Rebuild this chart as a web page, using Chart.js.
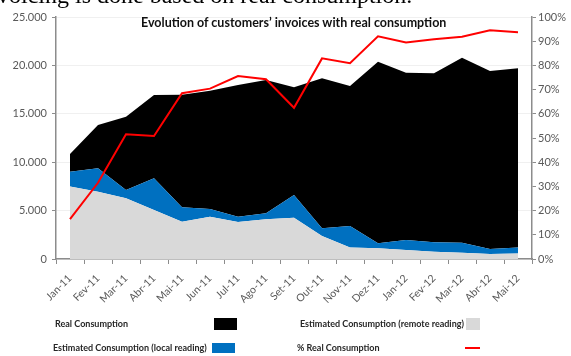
<!DOCTYPE html>
<html>
<head>
<meta charset="utf-8">
<script src="https://cdn.jsdelivr.net/npm/chart.js@4.4.1/dist/chart.umd.min.js"></script>
<style>
  html, body { margin: 0; padding: 0; background: #fff; }
  #wrap { position: relative; width: 571px; height: 356px; overflow: hidden; }
  #chart { position: absolute; left: 0; top: 0; }
  .hdr { position: absolute; left: -3px; top: -17px; font-family: "Liberation Serif", serif; font-size: 24px; line-height: 24px; white-space: nowrap; color: #000; }
  .ttl { position: absolute; top: 15px; left: 141px; font: bold 12.5px Lato, sans-serif; color: #111; white-space: nowrap; }
  .lg { position: absolute; font: bold 9px Lato, sans-serif; line-height: 12px; color: #262626; white-space: nowrap; }
  .sw { position: absolute; }
</style>
</head>
<body>
<div id="wrap">
  <canvas id="chart" width="571" height="356"></canvas>
  <div class="hdr">voicing is done based on real consumption.</div>
  <div class="ttl">Evolution of customers’ invoices with real consumption</div>
  <div id="legend"></div>
</div>
<script>
// Datos
const meses = ["Jan-11", "Fev-11", "Mar-11", "Abr-11", "Mai-11", "Jun-11", "Jul-11", "Ago-11", "Set-11",
  "Out-11", "Nov-11", "Dez-11", "Jan-12", "Fev-12", "Mar-12", "Abr-12", "Mai-12"];
const estimadoRemoto = [7500, 6950, 6270, 5060, 3860, 4370, 3820, 4100, 4250, 2380, 1200, 1100, 930, 760, 650, 520, 580];
const estimadoLocal = [1520, 2420, 860, 3270, 1480, 800, 550, 620, 2360, 790, 2210, 520, 1030, 960, 1040, 510, 620];
const consumoReal = [1830, 4470, 7570, 8610, 11630, 12220, 13600, 13770, 11130, 15490, 14460, 18760, 17290, 17460, 19110, 18390, 18500];
const pctReal = [16.5, 31.5, 51.5, 50.8, 68.5, 70.4, 75.6, 74.3, 62.5, 82.9, 80.9, 92.0, 89.5, 90.8, 91.8, 94.5, 93.7];
const ticksIzq = [0, 5000, 10000, 15000, 20000, 25000];
const ticksDer = [0, 10, 20, 30, 40, 50, 60, 70, 80, 90, 100];

const nombres = {
  real: "Real Consumption",
  remoto: "Estimated Consumption (remote reading)",
  local: "Estimated Consumption (local reading)",
  pct: "% Real Consumption",
};
const colores = { real: "#000000", remoto: "#d9d9d9", local: "#0070c0", pct: "#ff0000" };

const tickFont = { family: "Lato", size: 11 };
const gris = "#595959";
const eje = "#8c8c8c";

const area = (label, data, color, fill) => ({
  label, data, fill,
  backgroundColor: color,
  borderWidth: 0,
  pointRadius: 0,
  tension: 0,
  yAxisID: "y",
  order: 1,
});

new Chart(document.getElementById("chart"), {
  type: "line",
  data: {
    labels: meses,
    datasets: [
      area(nombres.remoto, estimadoRemoto, colores.remoto, "origin"),
      area(nombres.local, estimadoLocal, colores.local, "-1"),
      area(nombres.real, consumoReal, colores.real, "-1"),
      {
        label: nombres.pct,
        data: pctReal,
        borderColor: colores.pct,
        borderWidth: 2,
        pointRadius: 0,
        tension: 0,
        fill: false,
        yAxisID: "y1",
        order: 0,
      },
    ],
  },
  options: {
    responsive: false,
    animation: false,
    layout: { padding: { top: 17, left: 0, right: 0, bottom: 0 } },
    plugins: { legend: { display: false }, tooltip: { enabled: false } },
    scales: {
      x: {
        offset: true,
        afterFit: (s) => { s.height = 97; },
        border: { color: eje, width: 1.5 },
        grid: { offset: true, drawOnChartArea: false, drawTicks: true, tickLength: 5, tickColor: eje },
        ticks: { color: gris, font: { family: "Lato", size: 10.5 }, minRotation: 45, maxRotation: 45, autoSkip: false, padding: 8 },
      },
      y: {
        stacked: true,
        min: 0,
        max: 25000,
        afterFit: (s) => { s.width = 56; },
        afterBuildTicks: (s) => { s.ticks = ticksIzq.map((v) => ({ value: v })); },
        border: { color: eje, width: 1.5 },
        grid: { color: "#f0f0f0", tickColor: eje, tickLength: 4 },
        ticks: {
          color: gris, font: tickFont, padding: 5,
          callback: (v) => v.toLocaleString("de-DE"),
        },
      },
      y1: {
        position: "right",
        min: 0,
        max: 100,
        afterFit: (s) => { s.width = 39; },
        afterBuildTicks: (s) => { s.ticks = ticksDer.map((v) => ({ value: v })); },
        border: { color: eje, width: 1.5 },
        grid: { drawOnChartArea: false, tickColor: eje, tickLength: 4 },
        ticks: { color: gris, font: tickFont, padding: 2, callback: (v) => v + "%" },
      },
    },
  },
});

// Leyenda manual (texto primero, luego muestra)
const leyenda = [
  { key: "real", x: 55, y: 318, sx: 214, sy: 318, sw: 23, sh: 12 },
  { key: "remoto", x: 300, y: 318, sx: 466, sy: 318, sw: 14, sh: 12 },
  { key: "local", x: 53, y: 342, sx: 212, sy: 343, sw: 23, sh: 10 },
  { key: "pct", x: 297, y: 342, sx: 465, sy: 347, sw: 15, sh: 2 },
];
const cont = document.getElementById("legend");
leyenda.forEach((it) => {
  const t = document.createElement("div");
  t.className = "lg";
  t.style.left = it.x + "px";
  t.style.top = it.y + "px";
  t.textContent = nombres[it.key];
  cont.appendChild(t);
  const s = document.createElement("div");
  s.className = "sw";
  s.style.left = it.sx + "px";
  s.style.top = it.sy + "px";
  s.style.width = it.sw + "px";
  s.style.height = it.sh + "px";
  s.style.background = colores[it.key];
  cont.appendChild(s);
});
</script>
</body>
</html>
